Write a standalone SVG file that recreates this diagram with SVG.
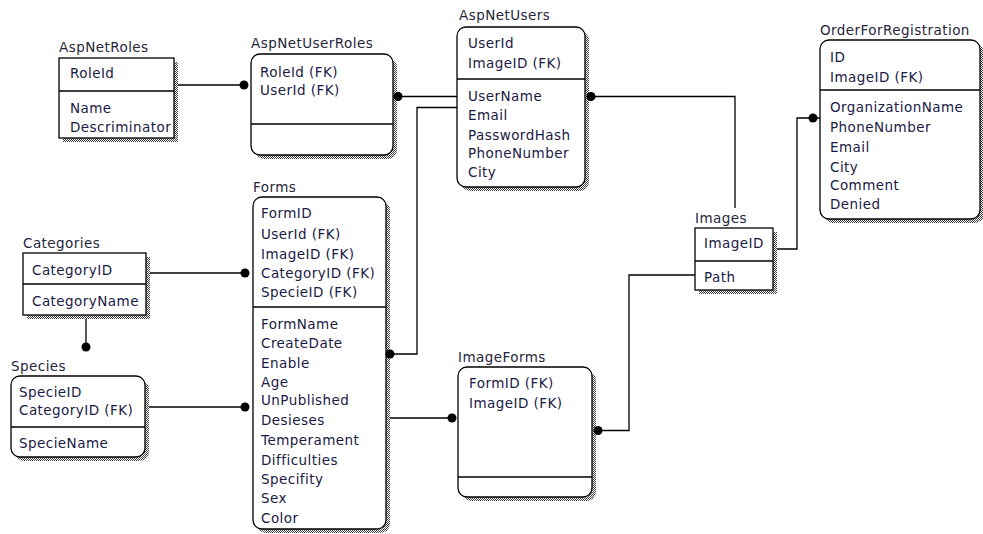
<svg xmlns="http://www.w3.org/2000/svg" width="983" height="534" viewBox="0 0 983 534">
  <defs>
    <pattern id="hatch" width="2" height="2" patternUnits="userSpaceOnUse">
      <rect width="2" height="2" fill="#ffffff"/>
      <rect x="0" y="0" width="1" height="1" fill="#404040"/>
      <rect x="1" y="1" width="1" height="1" fill="#404040"/>
    </pattern>
    <clipPath id="clipRoles">
      <rect x="59" y="58" width="113" height="80"/>
    </clipPath>
  </defs>
  <style>
    text { font-family: "DejaVu Sans", "Liberation Sans", sans-serif; font-size: 13.5px; letter-spacing: 0.45px; }
    .title { fill: #26263a; }
    .attr { fill: #1a1a44; }
    .box { fill: #ffffff; stroke: #000000; stroke-width: 1.3; }
    .shadow { fill: url(#hatch); stroke: none; }
    .div { stroke: #000000; stroke-width: 1.3; }
    .link { fill: none; stroke: #000000; stroke-width: 1.3; }
    .dot { fill: #000000; }
  </style>

  <!-- relationship lines (drawn under the tables) -->
  <g id="connectors">
    <path class="link" d="M174,85 H244"/>
    <path class="link" d="M398,96.5 H457"/>
    <path class="link" d="M457,107.5 H417 V354 H390"/>
    <path class="link" d="M591,96.5 H735 V208"/>
    <path class="link" d="M773,249 H797 V118 H820"/>
    <path class="link" d="M146,273 H245"/>
    <path class="link" d="M86,315 V347"/>
    <path class="link" d="M145,407 H245"/>
    <path class="link" d="M386,418 H452"/>
    <path class="link" d="M598,430.5 H629 V275 H695"/>
  </g>

  <!-- AspNetRoles -->
  <g id="AspNetRoles">
    <text class="title" x="59" y="52">AspNetRoles</text>
    <rect class="shadow" x="63" y="62" width="115" height="80"/>
    <rect class="box" x="59" y="58" width="115" height="80"/>
    <line class="div" x1="59" y1="91" x2="174" y2="91"/>
    <g clip-path="url(#clipRoles)">
      <text class="attr" x="70" y="78">RoleId</text>
      <text class="attr" x="70" y="113">Name</text>
      <text class="attr" x="70" y="132">Descriminator</text>
    </g>
  </g>

  <!-- AspNetUserRoles -->
  <g id="AspNetUserRoles">
    <text class="title" x="251" y="48">AspNetUserRoles</text>
    <rect class="shadow" x="255" y="58" width="142" height="101" rx="9"/>
    <rect class="box" x="251" y="54" width="142" height="101" rx="9"/>
    <line class="div" x1="251" y1="124" x2="393" y2="124"/>
    <text class="attr" x="260" y="77">RoleId (FK)</text>
    <text class="attr" x="260" y="95">UserId (FK)</text>
  </g>

  <!-- AspNetUsers -->
  <g id="AspNetUsers">
    <text class="title" x="459" y="20">AspNetUsers</text>
    <rect class="shadow" x="461" y="31" width="128" height="160" rx="9"/>
    <rect class="box" x="457" y="27" width="128" height="160" rx="9"/>
    <line class="div" x1="457" y1="79" x2="585" y2="79"/>
    <text class="attr" x="468" y="48">UserId</text>
    <text class="attr" x="468" y="68">ImageID (FK)</text>
    <text class="attr" x="468" y="101">UserName</text>
    <text class="attr" x="468" y="120">Email</text>
    <text class="attr" x="468" y="140">PasswordHash</text>
    <text class="attr" x="468" y="158">PhoneNumber</text>
    <text class="attr" x="468" y="177">City</text>
  </g>

  <!-- OrderForRegistration -->
  <g id="OrderForRegistration">
    <text class="title" x="820" y="35">OrderForRegistration</text>
    <rect class="shadow" x="824" y="44" width="160" height="179" rx="9"/>
    <rect class="box" x="820" y="40" width="160" height="179" rx="9"/>
    <line class="div" x1="820" y1="90" x2="980" y2="90"/>
    <text class="attr" x="830" y="62">ID</text>
    <text class="attr" x="830" y="82">ImageID (FK)</text>
    <text class="attr" x="830" y="112">OrganizationName</text>
    <text class="attr" x="830" y="132">PhoneNumber</text>
    <text class="attr" x="830" y="152">Email</text>
    <text class="attr" x="830" y="172">City</text>
    <text class="attr" x="830" y="190">Comment</text>
    <text class="attr" x="830" y="209">Denied</text>
  </g>

  <!-- Images -->
  <g id="Images">
    <text class="title" x="695" y="223">Images</text>
    <rect class="shadow" x="699" y="232" width="78" height="62"/>
    <rect class="box" x="695" y="228" width="78" height="62"/>
    <line class="div" x1="695" y1="261" x2="773" y2="261"/>
    <text class="attr" x="704" y="248">ImageID</text>
    <text class="attr" x="704" y="282">Path</text>
  </g>

  <!-- Categories -->
  <g id="Categories">
    <text class="title" x="23" y="248">Categories</text>
    <rect class="shadow" x="27" y="257" width="123" height="62"/>
    <rect class="box" x="23" y="253" width="123" height="62"/>
    <line class="div" x1="23" y1="284" x2="146" y2="284"/>
    <text class="attr" x="32" y="275">CategoryID</text>
    <text class="attr" x="32" y="306">CategoryName</text>
  </g>

  <!-- Species -->
  <g id="Species">
    <text class="title" x="11" y="371">Species</text>
    <rect class="shadow" x="15" y="380" width="134" height="81" rx="9"/>
    <rect class="box" x="11" y="376" width="134" height="81" rx="9"/>
    <line class="div" x1="11" y1="427" x2="145" y2="427"/>
    <text class="attr" x="19" y="397">SpecieID</text>
    <text class="attr" x="19" y="415">CategoryID (FK)</text>
    <text class="attr" x="19" y="448">SpecieName</text>
  </g>

  <!-- Forms -->
  <g id="Forms">
    <text class="title" x="253" y="192">Forms</text>
    <rect class="shadow" x="257" y="201" width="133" height="332" rx="9"/>
    <rect class="box" x="253" y="197" width="133" height="332" rx="9"/>
    <line class="div" x1="253" y1="307" x2="386" y2="307"/>
    <text class="attr" x="261" y="218">FormID</text>
    <text class="attr" x="261" y="239">UserId (FK)</text>
    <text class="attr" x="261" y="259">ImageID (FK)</text>
    <text class="attr" x="261" y="278">CategoryID (FK)</text>
    <text class="attr" x="261" y="297">SpecieID (FK)</text>
    <text class="attr" x="261" y="329">FormName</text>
    <text class="attr" x="261" y="348">CreateDate</text>
    <text class="attr" x="261" y="368">Enable</text>
    <text class="attr" x="261" y="387">Age</text>
    <text class="attr" x="261" y="405">UnPublished</text>
    <text class="attr" x="261" y="425">Desieses</text>
    <text class="attr" x="261" y="445">Temperament</text>
    <text class="attr" x="261" y="465">Difficulties</text>
    <text class="attr" x="261" y="484">Specifity</text>
    <text class="attr" x="261" y="503">Sex</text>
    <text class="attr" x="261" y="523">Color</text>
  </g>

  <!-- ImageForms -->
  <g id="ImageForms">
    <text class="title" x="458" y="362">ImageForms</text>
    <rect class="shadow" x="462" y="371" width="134" height="130" rx="9"/>
    <rect class="box" x="458" y="367" width="134" height="130" rx="9"/>
    <line class="div" x1="458" y1="477" x2="592" y2="477"/>
    <text class="attr" x="469" y="388">FormID (FK)</text>
    <text class="attr" x="469" y="408">ImageID (FK)</text>
  </g>

  <!-- "many" end markers, painted over the table shadows -->
  <g id="connector-ends">
    <circle class="dot" cx="244" cy="85" r="4.5"/>
    <circle class="dot" cx="398" cy="96.5" r="4.5"/>
    <circle class="dot" cx="390" cy="354" r="4.5"/>
    <circle class="dot" cx="591" cy="96.5" r="4.5"/>
    <circle class="dot" cx="813" cy="118" r="4.5"/>
    <circle class="dot" cx="245" cy="273" r="4.5"/>
    <circle class="dot" cx="86" cy="347" r="4.5"/>
    <circle class="dot" cx="245" cy="407" r="4.5"/>
    <circle class="dot" cx="452" cy="418" r="4.5"/>
    <circle class="dot" cx="598" cy="430.5" r="4.5"/>
  </g>
</svg>
